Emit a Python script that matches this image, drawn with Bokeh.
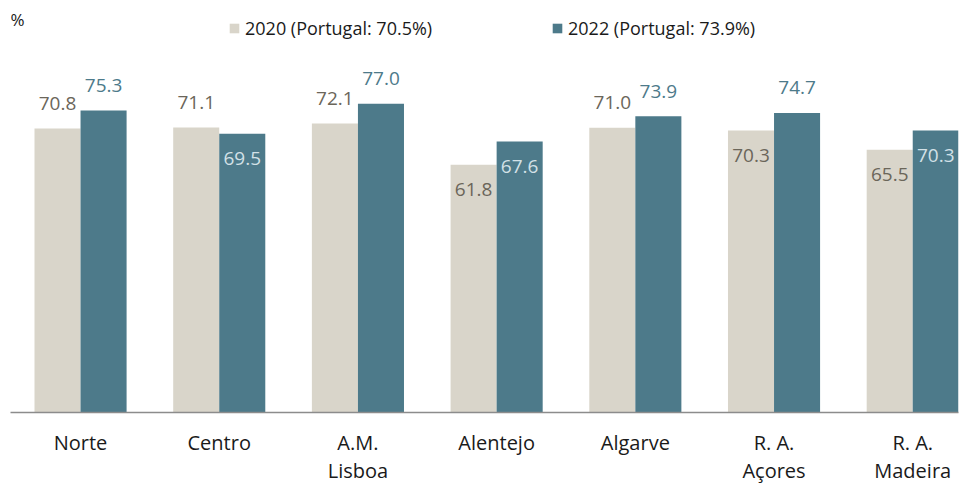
import numpy as np
from bokeh.plotting import figure
from bokeh.models import (Range1d, FixedTicker, Legend, LegendItem, Label, ColumnDataSource)
from bokeh.core.properties import value
from bokeh.embed import file_html
from bokeh.resources import INLINE

# ---- data ----
regions = ["Norte", "Centro", "A.M.\nLisboa", "Alentejo", "Algarve", "R. A.\nAçores", "R. A.\nMadeira"]
v2020 = [70.8, 71.1, 72.1, 61.8, 71.0, 70.3, 65.5]
v2022 = [75.3, 69.5, 77.0, 67.6, 73.9, 74.7, 70.3]
inside2020 = [False, False, False, True, False, True, True]
inside2022 = [False, True, False, True, False, False, True]
legend2020 = "2020 (Portugal: 70.5%)"
legend2022 = "2022 (Portugal: 73.9%)"

# ---- style ----
C2020 = "#D9D5CA"
C2022 = "#4D7A8A"
T2020 = "#6B665A"
T2022_OUT = "#4D7A8A"
T2022_IN = "#D3E1E7"
FONT = "Open Sans"

FRAME_W, FRAME_H = 948, 404
Y_END = 100.75
PPU = FRAME_H / Y_END
OFF = 25 / PPU
BW = 0.332

p = figure(width=960, height=474, frame_width=FRAME_W, frame_height=FRAME_H,
           x_range=Range1d(-0.505, 6.33), y_range=Range1d(0, Y_END),
           output_backend="svg", toolbar_location=None,
           min_border_left=10, min_border_right=2, min_border_top=8, min_border_bottom=0)
p.outline_line_color = None
p.grid.visible = False
p.yaxis.visible = False
p.background_fill_color = "white"
p.border_fill_color = "white"

x = np.arange(len(regions))
x20 = x - BW / 2
x22 = x + BW / 2

r20 = p.vbar(x=x20, top=v2020, width=BW, bottom=0, fill_color=C2020, line_color=None)
r22 = p.vbar(x=x22, top=v2022, width=BW, bottom=0, fill_color=C2022, line_color=None)

def labels(xs, vals, inside, col_in, col_out):
    ys = [v - OFF if ins else v + OFF for v, ins in zip(vals, inside)]
    cols = [col_in if ins else col_out for ins in inside]
    txt = [f"{v:.1f}" for v in vals]
    src = ColumnDataSource(dict(x=xs, y=ys, t=txt, c=cols))
    p.text(x="x", y="y", text="t", text_color="c", source=src,
           text_align="center", text_baseline="middle",
           text_font=value(FONT), text_font_size="19px")

labels(x20, v2020, inside2020, T2020, T2020)
labels(x22, v2022, inside2022, T2022_IN, T2022_OUT)

ax = p.xaxis[0]
ax.ticker = FixedTicker(ticks=list(x))
ax.major_label_overrides = {int(i): r for i, r in zip(x, regions)}
ax.major_tick_line_color = None
ax.minor_tick_line_color = None
ax.axis_line_color = "#8C8C8C"
ax.axis_line_width = 1.5
ax.major_label_text_font = FONT
ax.major_label_text_font_size = "20px"
ax.major_label_text_color = "#1a1a1a"
ax.major_label_text_line_height = 1.05
ax.major_label_standoff = 10

def mk_legend(renderer, label, xpos):
    lg = Legend(items=[LegendItem(label=label, renderers=[renderer])],
                location=(xpos, 372), orientation="horizontal",
                glyph_width=12, glyph_height=12, label_standoff=5,
                padding=0, margin=0, spacing=0,
                border_line_alpha=0, background_fill_alpha=0,
                label_text_font=FONT, label_text_font_size="18px",
                label_text_color="#1a1a1a")
    p.add_layout(lg, "center")

mk_legend(r20, legend2020, 218)
mk_legend(r22, legend2022, 541)

p.add_layout(Label(x=0, y=393, x_units="screen", y_units="screen", text="%",
                   text_baseline="middle", text_font=FONT, text_font_size="17px",
                   text_color="#1a1a1a"))

open("out.html", "w").write(file_html(p, INLINE))
